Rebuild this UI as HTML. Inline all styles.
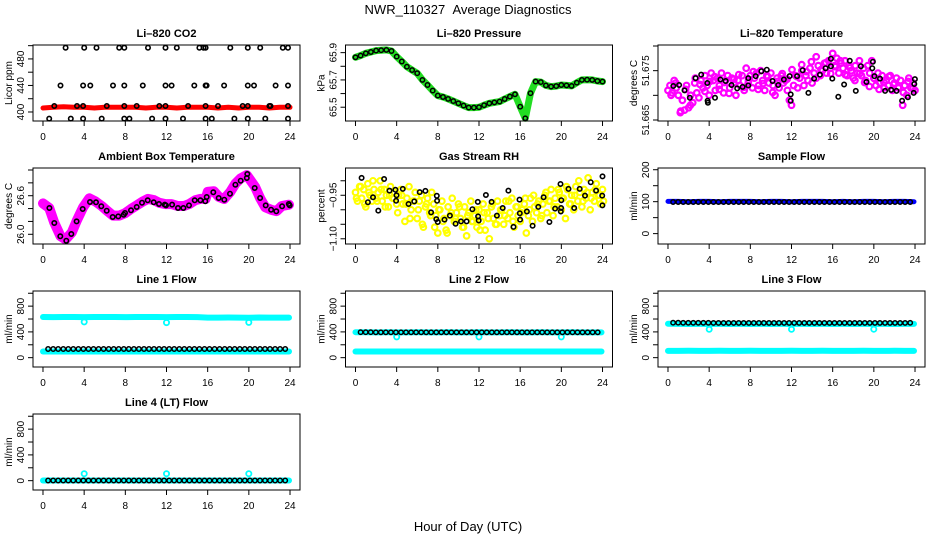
<!DOCTYPE html>
<html><head><meta charset="utf-8"><style>
html,body{margin:0;padding:0;background:#fff;}
svg{display:block;font-family:"Liberation Sans",sans-serif;}
</style></head><body>
<svg id="chart" width="936" height="540" viewBox="0 0 936 540">
<rect x="0" y="0" width="936" height="540" fill="#fff"/>
<text x="468" y="14" font-size="13" text-anchor="middle">NWR_110327&#160;&#160;Average Diagnostics</text>
<text x="468" y="531" font-size="13" text-anchor="middle">Hour of Day (UTC)</text>
</svg>
<script>
// ---------- data ----------
const xTicks=[0,4,8,12,16,20,24];
// CO2
const co2RedT=[0,1,2,3,4,5,6,7,8,9,10,11,12,13,14,15,16,17,18,19,20,21,22,23,24];
const co2RedV=[406,407,408,407,407,406,407,407,407,407,406,407,407,406,407,407,407,406,407,406,407,407,406,407,407];
const co2BlackT=[2.2,4.0,5.2,7.4,7.9,10.2,11.9,13.0,15.2,15.6,15.8,18.2,19.9,21.1,23.3,23.8,
 1.7,3.9,4.6,6.8,7.9,9.7,11.9,12.5,14.7,15.8,15.9,17.6,19.9,20.5,22.6,23.8,
 1.1,3.3,3.9,6.2,7.9,9.1,11.3,11.9,14.1,15.8,17.0,19.4,19.9,22.0,22.1,23.8,
 0.6,2.7,3.9,5.7,7.9,8.4,10.6,11.9,13.6,15.8,16.4,18.6,19.9,21.6,23.8];
const co2BlackV=[497,497,497,497,497,497,497,497,497,497,497,497,497,497,497,497,
 440,440,440,440,440,440,440,440,440,440,440,440,440,440,440,440,
 409,409,409,409,409,409,409,409,409,409,409,409,409,409,409,409,
 390,390,390,390,390,390,390,390,390,390,390,390,390,390,390];
// Pressure
const pressT=[0,0.5,1,1.5,2,2.5,3,3.5,4,4.5,5,5.5,6,6.5,7,7.5,8,8.5,9,9.5,10,10.5,11,11.5,12,12.5,13,13.5,14,14.5,15,15.5,16,16.5,17,17.5,18,18.5,19,19.5,20,20.5,21,21.5,22,22.5,23,23.5,24];
const pressV=[65.866,65.878,65.895,65.905,65.915,65.918,65.92,65.912,65.871,65.835,65.797,65.772,65.749,65.70,65.663,65.622,65.585,65.575,65.561,65.545,65.529,65.512,65.497,65.497,65.50,65.515,65.529,65.535,65.541,65.56,65.578,65.595,65.504,65.419,65.603,65.688,65.684,65.66,65.651,65.655,65.663,65.66,65.656,65.68,65.70,65.702,65.70,65.692,65.688];
// Li-820 temperature
const tempMagV=[51.6710,51.6720,51.6705,51.6730,51.6715,51.6700,51.6665,51.6690,51.6670,51.6720,51.6675,51.6700,51.6685,51.6725,51.6705,51.6695,51.6730,51.6715,51.6740,51.6720,51.6700,51.6745,51.6730,51.6710,51.6735,51.6720,51.6745,51.6705,51.6730,51.6740,51.6715,51.6735,51.6725,51.6700,51.6730,51.6720,51.6740,51.6710,51.6755,51.6725,51.6740,51.6715,51.6735,51.6745,51.6720,51.6750,51.6730,51.6710,51.6740,51.6725,51.6745,51.6720,51.6700,51.6735,51.6715,51.6740,51.6725,51.6730,51.6710,51.6690,51.6680,51.6720,51.6740,51.6715,51.6735,51.6750,51.6720,51.6740,51.6730,51.6755,51.6725,51.6745,51.6735,51.6760,51.6740,51.6750,51.6765,51.6745,51.6770,51.6755,51.6785,51.6760,51.6775,51.6745,51.6765,51.6755,51.6770,51.6740,51.6760,51.6750,51.6735,51.6760,51.6745,51.6770,51.6740,51.6755,51.6730,51.6760,51.6745,51.6770,51.6735,51.6720,51.6745,51.6725,51.6740,51.6715,51.6730,51.6720,51.6740,51.6710,51.6725,51.6735,51.6715,51.6730,51.6680,51.6720,51.6700,51.6735,51.6715,51.6725,51.6710];
const tempMagB=[51.6700,51.6725,51.6668,51.6712,51.6680,51.6735,51.6722,51.6708,51.6728,51.6738,51.6712,51.6726,51.6704,51.6733,51.6742,51.6716,51.6730,51.6748,51.6712,51.6724,51.6738,51.6706,51.6728,51.6744,51.6733,51.6752,51.6738,51.6762,51.6748,51.6768,51.6778,51.6752,51.6766,51.6744,51.6758,51.6770,51.6742,51.6756,51.6730,51.6744,51.6726,51.6718,51.6734,51.6712,51.6726,51.6738,51.6722,51.6716,51.6706,51.6728,51.6714];
const tempBlackT=[0.52,1.08,1.6,2.12,2.68,3.23,3.82,3.85,3.88,4.57,5.09,5.61,6.17,6.72,7.25,7.8,7.8,8.52,9.08,9.6,10.15,10.71,11.26,11.82,11.92,11.92,12.54,13.09,13.64,14.2,14.76,15.31,15.83,15.83,15.96,16.55,17.11,17.66,18.25,18.74,19.29,19.85,19.91,20.05,20.6,21.09,21.68,22.2,22.75,23.31,23.87,23.93,23.99];
const tempBlackV=[51.6719,51.6721,51.6710,51.6695,51.6735,51.6742,51.6725,51.6689,51.6685,51.6695,51.6732,51.6729,51.6721,51.6714,51.6717,51.6735,51.6720,51.6739,51.6749,51.6752,51.6729,51.6721,51.6732,51.6739,51.6702,51.6689,51.6739,51.6751,51.6705,51.6734,51.6742,51.6755,51.6759,51.6774,51.6734,51.6697,51.6722,51.6770,51.6709,51.6759,51.6727,51.6755,51.6768,51.6739,51.6734,51.6709,51.6711,51.6709,51.6689,51.6696,51.6705,51.6723,51.6733];
// Ambient box temperature
const ambMagT=[0,0.6,1.1,1.7,2.2,2.8,3.3,3.9,4.5,5.1,5.7,6.2,6.8,7.4,8,8.6,9.1,9.7,10.2,10.8,11.3,11.9,12.5,13.1,13.7,14.2,14.8,15.3,15.8,16.0,16.6,17.1,17.6,18.2,18.7,19.2,19.8,20.6,21.1,21.6,22.2,22.7,23.2,23.9];
const ambMagV=[26.48,26.41,26.18,25.97,25.92,26.03,26.22,26.42,26.56,26.51,26.44,26.37,26.29,26.29,26.33,26.40,26.45,26.51,26.55,26.53,26.49,26.47,26.47,26.44,26.44,26.47,26.53,26.55,26.55,26.66,26.67,26.58,26.55,26.66,26.79,26.87,26.92,26.74,26.56,26.42,26.38,26.36,26.44,26.46];
const ambBlackT=[0.62,1.1,1.68,2.27,2.75,3.27,3.86,4.57,5.15,5.67,6.19,6.77,7.32,7.84,7.97,8.55,9.1,9.62,10.17,10.76,11.27,11.83,11.95,12.54,13.12,13.64,14.19,14.74,15.29,15.77,15.91,16.55,17.07,17.62,18.17,18.69,19.21,19.8,19.85,20.57,21.09,21.64,22.16,22.67,23.23,23.88,23.97];
const ambBlackV=[26.409,26.176,25.968,25.901,26.005,26.201,26.393,26.502,26.497,26.435,26.367,26.269,26.279,26.305,26.331,26.373,26.424,26.492,26.528,26.497,26.471,26.461,26.450,26.461,26.409,26.409,26.450,26.528,26.528,26.513,26.580,26.653,26.564,26.538,26.632,26.772,26.834,26.876,26.938,26.720,26.564,26.450,26.383,26.357,26.435,26.471,26.450];
// Gas stream RH
const rhYellowA=[-0.94,-0.97,-0.92,-0.96,-0.93,-0.99,-0.91,-0.95,-0.97,-0.93,-0.96,
 -0.94,-0.90,-0.97,-0.93,-0.95,-0.99,-0.92,-0.96,-0.94,-0.98,
 -0.95,-0.93,-0.98,-1.04,-0.96,-0.92,-1.00,-0.97,-0.94,-1.03,
 -0.97,-0.95,-1.06,-0.99,-0.96,-1.01,-0.94,-0.98,-1.02,-1.08,
 -1.00,-0.97,-1.03,-1.07,-0.99,-1.02,-0.96,-1.04,-1.01,-0.98,
 -1.03,-1.06,-0.99,-1.09,-1.01,-0.97,-1.04,-1.02,-1.06,-1.00,
 -1.04,-0.98,-1.07,-1.01,-1.10,-0.99,-1.03,-1.05,-0.97,-1.02,
 -1.00,-1.05,-0.97,-1.03,-1.01,-0.96,-1.06,-0.99,-1.02,-1.04,
 -1.00,-0.98,-1.08,-1.02,-0.96,-1.04,-0.99,-1.01,-0.97,-1.03,
 -0.98,-0.95,-1.01,-0.97,-0.93,-1.02,-0.96,-0.99,-0.94,-1.00,
 -0.96,-1.03,-0.93,-0.98,-0.95,-1.00,-0.92,-0.97,-0.94,-0.99,
 -0.93,-0.96,-0.89,-1.00,-0.94,-0.97,-0.91,-0.95,-0.98,-0.93];
const rhYellowB=[-0.96,-0.92,-0.98,-0.94,-0.90,-0.97,-0.93,-0.99,-0.95,-0.96,
 -1.01,-0.95,-0.98,-1.03,-0.97,-1.00,-1.05,-0.98,-1.02,-1.06,
 -1.00,-1.04,-1.08,-1.01,-1.03,-0.99,-1.06,-1.02,-1.04,-1.00,
 -1.07,-1.01,-1.03,-0.98,-1.05,-1.00,-1.02,-0.97,-1.04,-0.99,
 -1.01,-0.96,-1.00,-0.95,-0.98,-1.02,-0.94,-0.97,-0.99,-0.93,
 -0.96,-0.92,-0.98,-0.95,-0.90,-0.97,-0.94,-0.96,-0.93,-0.95,-0.97];
const rhBlackT=[0.59,1.21,1.7,2.22,2.78,3.3,3.88,3.98,3.95,4.6,5.16,5.71,6.24,6.79,7.35,7.9,7.93,7.85,8.0,8.65,9.17,9.73,10.25,10.8,11.36,11.88,11.91,11.97,12.67,13.22,13.74,14.3,14.86,15.35,15.93,15.96,15.99,16.65,17.21,17.76,18.28,18.84,19.39,19.92,20.0,19.98,19.95,20.7,21.25,21.78,22.3,22.85,23.38,23.97,24.0,23.99];
const rhBlackV=[-0.890,-0.974,-0.957,-1.003,-0.894,-0.934,-0.931,-0.950,-0.969,-0.928,-0.980,-0.971,-0.939,-0.935,-1.009,-0.952,-0.969,-1.032,-1.042,-1.034,-1.020,-1.048,-1.040,-1.040,-0.998,-0.973,-1.023,-1.037,-0.949,-0.973,-1.020,-0.994,-0.934,-1.059,-0.965,-1.012,-1.034,-1.006,-1.055,-0.990,-0.957,-1.042,-0.996,-0.911,-0.967,-0.994,-1.006,-0.928,-0.994,-0.928,-0.951,-0.905,-0.934,-0.951,-0.885,-0.985];
// Flows
const bandT=[0,1,2,3,4,5,6,7,8,9,10,11,12,13,14,15,16,17,18,19,20,21,22,23,23.9];
const sampleBlue=[101,101,100,101,101,100,101,101,101,100,101,101,100,101,101,101,100,101,100,101,101,100,101,101,100];
const line1CyanHi=[632,630,631,632,630,631,632,631,630,631,632,631,630,631,631,630,622,622,623,622,621,623,622,622,622];
const line1CyanLo=[95,96,95,96,95,95,96,95,96,95,95,96,95,95,96,95,96,95,95,96,95,96,95,95,96];
const line2CyanHi=[395,393,392,393,392,392,393,392,392,393,392,392,393,392,392,393,392,392,393,392,392,393,392,392,392];
const line2CyanLo=[95,95,96,95,95,96,95,95,95,96,95,95,95,96,95,95,96,95,95,95,96,95,95,95,96];
const line3CyanHi=[525,524,523,524,523,524,523,524,523,524,523,524,523,524,523,524,523,524,523,524,523,524,523,524,524];
const line3CyanLo=[105,105,106,105,105,106,105,105,106,105,105,105,106,105,105,106,105,105,105,106,105,105,106,105,105];
const line4Cyan=[2,2,2,2,2,2,2,2,2,2,2,2,2,2,2,2,2,2,2,2,2,2,2,2,2];
const dipT=[4,12,20];
const line1Dip=[555,545,548];
const line2Dip=[322,322,322];
const line3Dip=[440,440,442];
const line4Dip=[108,108,108];
const sampleBlack=[99,99,99,99,99,99,99,99,99,99,99,99,99,99,99,99,99,99,99,99,99,99,99,99,99,99,99,99,99,99,99,99,99,99,99,99,99,99,99,99,99,99,99,99,99,99,99,99];
const line1Black=[134,134,134,134,134,134,134,134,134,134,134,134,134,134,134,134,134,134,134,134,134,134,134,134,134,134,134,134,134,134,134,134,134,134,134,134,134,134,134,134,134,134,134,134,134,134,134,134];
const line2Black=[396,395,395,394,394,394,394,393,393,393,393,393,393,393,393,393,393,393,393,393,393,393,393,393,393,393,393,393,393,393,393,393,393,393,393,393,393,393,393,393,393,393,393,393,393,393,393,393];
const line3Black=[543,543,542,542,542,542,542,542,540,540,540,540,540,540,540,540,540,540,540,540,540,540,540,540,540,540,540,540,540,540,540,540,540,540,540,540,540,540,540,540,540,540,540,540,540,540,540,541];
const line4Black=[2,2,2,2,2,2,2,2,2,2,2,2,2,2,2,2,2,2,2,2,2,2,2,2,2,2,2,2,2,2,2,2,2,2,2,2,2,2,2,2,2,2,2,2,2,2,2,2];

// ---------- drawing ----------
const NS='http://www.w3.org/2000/svg';
const svg=document.getElementById('chart');
const COLS=[33,345.5,658], ROWS=[45,168,291,414], PW=267, PH=76, XLIM=[-0.97,24.97];
function el(tag,attrs,parent){const e=document.createElementNS(NS,tag);for(const k in attrs)e.setAttribute(k,attrs[k]);(parent||svg).appendChild(e);return e;}
function panel(c,r,name,title,ylab,ylim,ticks,labels){
  const x0=COLS[c],y0=ROWS[r];
  const g=el('g',{});
  
  
  const sx=h=>x0+(h-XLIM[0])/(XLIM[1]-XLIM[0])*PW;
  const sy=v=>y0+PH-(v-ylim[0])/(ylim[1]-ylim[0])*PH;
  const t=el('text',{x:x0+PW/2,y:y0-8,'font-size':11,'font-weight':'bold','text-anchor':'middle'},g);
  t.textContent=title;
  
  
  const yl=el('text',{x:0,y:0,'font-size':10,'text-anchor':'middle',transform:`translate(${x0-21},${y0+PH/2}) rotate(-90)`},g);
  yl.textContent=ylab;
  
  
  xTicks.forEach(h=>{
    const X=sx(h);
    el('line',{x1:X,x2:X,y1:y0+PH,y2:y0+PH+5,stroke:'#000','stroke-width':1},g);
    const tl=el('text',{x:X,y:y0+PH+19,'font-size':10,'text-anchor':'middle'},g);
    tl.textContent=h;
    
    
  });
  ticks.forEach((v,i)=>{
    const Y=sy(v);
    el('line',{x1:x0-5,x2:x0,y1:Y,y2:Y,stroke:'#000','stroke-width':1},g);
    if(labels[i]){
      const tl=el('text',{x:0,y:0,'font-size':10,'text-anchor':'middle',transform:`translate(${x0-9},${Y}) rotate(-90)`},g);
      tl.textContent=labels[i];
      
      
    }
  });
  const plot=el('g',{},g);
  el('rect',{x:x0,y:y0,width:PW,height:PH,fill:'none',stroke:'#000','stroke-width':1},g);
  return {sx,sy,g:plot};
}
function band(p,ts,vs,color,w,name){
  const pts=ts.map((t,i)=>p.sx(t).toFixed(1)+','+p.sy(vs[i]).toFixed(1)).join(' ');
  const pl=el('polyline',{points:pts,fill:'none',stroke:color,'stroke-width':w,'stroke-linejoin':'round','stroke-linecap':'round'},p.g);
  
  
}
function pts(p,ts,vs,color,r,sw,name){
  ts.forEach((t,i)=>{
    const c=el('circle',{cx:p.sx(t).toFixed(1),cy:p.sy(vs[i]).toFixed(1),r:r,fill:'none',stroke:color,'stroke-width':sw},p.g);
    
    
  });
}
const half=[];for(let i=0;i<48;i++)half.push(0.5+i*0.49);
const fifth=[];for(let i=0;i<121;i++)fifth.push(i*0.2);
const fifthB=[];for(let i=0;i<61;i++)fifthB.push(0.1+i*0.4);
const tempBT=[];for(let i=0;i<51;i++)tempBT.push(0.3+i*0.47);
const flowTicks=[0,200,400,600,800,1000], flowLab=['0','','400','','800',''], FL=[-145,1035];

let p=panel(0,0,'co2','Li\u2013820 CO2','Licor ppm',[386.4,501],[400,420,440,460,480,500],['400','','440','','480','']);
band(p,co2RedT,co2RedV,'#ff0000',5,'co2-red-series');
pts(p,co2BlackT,co2BlackV,'#000',2.2,1.6,'co2-black-point');

p=panel(1,0,'pressure','Li\u2013820 Pressure','kPa',[65.399,65.956],[65.5,65.6,65.7,65.8,65.9],['65.5','','65.7','','65.9']);
band(p,pressT,pressV,'#22dd22',7,'pressure-green-series');
pts(p,pressT,pressV,'#000',2.2,1.5,'pressure-black-point');

p=panel(2,0,'temperature','Li\u2013820 Temperature','degrees C',[51.6648,51.6802],[51.665,51.670,51.675,51.680],['51.665','','51.675','']);
pts(p,fifth,tempMagV,'#ff00ff',2.8,2.2,'temp-magenta-point');
pts(p,tempBT,tempMagB,'#ff00ff',2.8,2.2,'temp-magenta-point');
pts(p,tempBlackT,tempBlackV,'#000',2.2,1.6,'temp-black-point');

p=panel(0,1,'ambient','Ambient Box Temperature','degrees C',[25.849,27.031],[26.0,26.2,26.4,26.6,26.8,27.0],['26.0','','','26.6','','']);
band(p,ambMagT,ambMagV,'#ff00ff',10,'ambient-magenta-series');
pts(p,ambBlackT,ambBlackV,'#000',2.2,1.6,'ambient-black-point');

p=panel(1,1,'rh','Gas Stream RH','percent',[-1.118,-0.856],[-0.90,-0.95,-1.00,-1.05,-1.10],['','\u22120.95','','','\u22121.10']);
pts(p,fifth,rhYellowA,'#ffff00',2.8,2.1,'rh-yellow-point');
pts(p,fifthB,rhYellowB,'#ffff00',2.8,2.1,'rh-yellow-point');
pts(p,rhBlackT,rhBlackV,'#000',2.2,1.6,'rh-black-point');

p=panel(2,1,'sample-flow','Sample Flow','ml/min',[-32.5,205.4],[0,50,100,150,200],['0','','100','','200']);
band(p,bandT,sampleBlue,'#0000ff',5,'sample-blue-series');
pts(p,half,sampleBlack,'#000',2.2,1.5,'sample-black-point');

p=panel(0,2,'line1','Line 1 Flow','ml/min',FL,flowTicks,flowLab);
band(p,bandT,line1CyanHi,'#00ffff',6,'line1-cyan-high');
band(p,bandT,line1CyanLo,'#00ffff',6,'line1-cyan-low');
pts(p,dipT,line1Dip,'#00ffff',2.6,1.8,'line1-cyan-dip');
pts(p,half,line1Black,'#000',2.2,1.5,'line1-black-point');

p=panel(1,2,'line2','Line 2 Flow','ml/min',FL,flowTicks,flowLab);
band(p,bandT,line2CyanHi,'#00ffff',6,'line2-cyan-high');
band(p,bandT,line2CyanLo,'#00ffff',6,'line2-cyan-low');
pts(p,dipT,line2Dip,'#00ffff',2.6,1.8,'line2-cyan-dip');
pts(p,half,line2Black,'#000',2.2,1.5,'line2-black-point');

p=panel(2,2,'line3','Line 3 Flow','ml/min',FL,flowTicks,flowLab);
band(p,bandT,line3CyanHi,'#00ffff',6,'line3-cyan-high');
band(p,bandT,line3CyanLo,'#00ffff',6,'line3-cyan-low');
pts(p,dipT,line3Dip,'#00ffff',2.6,1.8,'line3-cyan-dip');
pts(p,half,line3Black,'#000',2.2,1.5,'line3-black-point');

p=panel(0,3,'line4','Line 4 (LT) Flow','ml/min',FL,flowTicks,flowLab);
band(p,bandT,line4Cyan,'#00ffff',6,'line4-cyan-series');
pts(p,dipT,line4Dip,'#00ffff',2.6,1.8,'line4-cyan-bump');
pts(p,half,line4Black,'#000',2.2,1.5,'line4-black-point');
</script>
</body></html>
